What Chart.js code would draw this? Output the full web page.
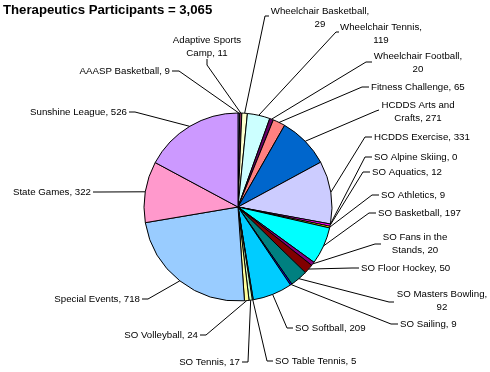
<!DOCTYPE html>
<html>
<head>
<meta charset="utf-8">
<title>Therapeutics Participants</title>
<script src="https://cdn.jsdelivr.net/npm/chart.js@4/dist/chart.umd.min.js"></script>
<style>
    html, body { margin: 0; padding: 0; background: #fff; }
    #chart-wrap { width: 490px; height: 372px; }
</style>
</head>
<body>
<div id="chart-wrap">
    <canvas id="participants-chart" width="490" height="372"></canvas>
</div>
<script>
// Chart data (clockwise from 12 o'clock)
const categories = [
    'AAASP Basketball', 'Adaptive Sports Camp', 'Wheelchair Basketball', 'Wheelchair Tennis',
    'Wheelchair Football', 'Fitness Challenge', 'HCDDS Arts and Crafts', 'HCDDS Exercise',
    'SO Alpine Skiing', 'SO Aquatics', 'SO Athletics', 'SO Basketball',
    'SO Fans in the Stands', 'SO Floor Hockey', 'SO Masters Bowling', 'SO Sailing',
    'SO Softball', 'SO Table Tennis', 'SO Tennis', 'SO Volleyball',
    'Special Events', 'State Games', 'Sunshine League'
];
const participants = [
    9, 11, 29, 119,
    20, 65, 271, 331,
    0, 12, 9, 197,
    20, 50, 92, 9,
    209, 5, 17, 24,
    718, 322, 526
];
const chartTitle = 'Therapeutics Participants = 3,065';

// Old Excel pie palette
const sliceColors = [
    '#9999FF', '#993366', '#FFFFCC', '#CCFFFF', '#660066', '#FF8080', '#0066CC', '#CCCCFF',
    '#000080', '#FF00FF', '#FFFF00', '#00FFFF', '#800080', '#800000', '#008080', '#0000FF',
    '#00CCFF', '#CCFFFF', '#CCFFCC', '#FFFF99', '#99CCFF', '#FF99CC', '#CC99FF'
];

// Where each data label sits and where its leader line starts
// x/y = text anchor, align = text alignment, wrap = words on first line,
// lx/ly = leader start, ex/ey = elbow point before heading to the slice
const labelLayout = [
    { x: 170, y: 71,  align: 'right',  lx: 172, ly: 71,  ex: 179, ey: 71 },
    { x: 207, y: 40,  align: 'center', wrap: 2, lx: 207, ly: 59, ex: 207, ey: 65 },
    { x: 320, y: 11,  align: 'center', wrap: 2, lx: 269, ly: 16, ex: 265, ey: 16 },
    { x: 381, y: 27,  align: 'center', wrap: 2, lx: 339, ly: 32, ex: 336, ey: 32 },
    { x: 418, y: 56,  align: 'center', wrap: 2, lx: 372, ly: 62, ex: 366, ey: 62 },
    { x: 371, y: 87,  align: 'left',   lx: 369, ly: 87,  ex: 362, ey: 87 },
    { x: 418, y: 105, align: 'center', wrap: 3, lx: 379, ly: 110, ex: 376, ey: 111 },
    { x: 374, y: 137, align: 'left',   lx: 372, ly: 137, ex: 365, ey: 137 },
    { x: 374, y: 157, align: 'left',   lx: 372, ly: 157, ex: 365, ey: 157 },
    { x: 372, y: 172, align: 'left',   lx: 370, ly: 172, ex: 363, ey: 172 },
    { x: 381, y: 195, align: 'left',   lx: 379, ly: 195, ex: 372, ey: 195 },
    { x: 378, y: 213, align: 'left',   lx: 376, ly: 213, ex: 369, ey: 213 },
    { x: 415, y: 237, align: 'center', wrap: 4, lx: 381, ly: 244, ex: 375, ey: 244 },
    { x: 361, y: 268, align: 'left',   lx: 359, ly: 268, ex: 352, ey: 268 },
    { x: 442, y: 294, align: 'center', wrap: 3, lx: 394, ly: 302, ex: 389, ey: 302 },
    { x: 400, y: 324, align: 'left',   lx: 398, ly: 324, ex: 391, ey: 324 },
    { x: 295, y: 328, align: 'left',   lx: 293, ly: 328, ex: 287, ey: 328 },
    { x: 275, y: 361, align: 'left',   lx: 273, ly: 361, ex: 267, ey: 361 },
    { x: 240, y: 362, align: 'right',  lx: 242, ly: 362, ex: 248, ey: 362 },
    { x: 198, y: 335, align: 'right',  lx: 200, ly: 335, ex: 206, ey: 335 },
    { x: 140, y: 299, align: 'right',  lx: 142, ly: 299, ex: 148, ey: 299 },
    { x: 91,  y: 192, align: 'right',  lx: 93,  ly: 192, ex: 100, ey: 192 },
    { x: 127, y: 112, align: 'right',  lx: 129, ly: 112, ex: 135, ey: 112 }
];

const LABEL_FONT = '9.7px "Liberation Sans", Arial, sans-serif';
const TITLE_FONT = 'bold 13.2px "Liberation Sans", Arial, sans-serif';
const LINE_HEIGHT = 13;

/**
 * Split "Category, value" into display lines
 * @param {number} index - Slice index
 * @returns {Array} Lines of text
 */
function labelLines(index) {
    const text = categories[index] + ', ' + participants[index];
    const wrap = labelLayout[index].wrap;
    if (!wrap) return [text];
    const words = text.split(' ');
    return [words.slice(0, wrap).join(' '), words.slice(wrap).join(' ')];
}

// Draws title, leader lines and data labels
const pieLabelsPlugin = {
    id: 'pieLabels',
    afterDraw(chart) {
        const ctx = chart.ctx;
        const arcs = chart.getDatasetMeta(0).data;

        ctx.save();

        // Title
        ctx.fillStyle = '#000';
        ctx.font = TITLE_FONT;
        ctx.textAlign = 'left';
        ctx.textBaseline = 'alphabetic';
        ctx.fillText(chartTitle, 3, 13.5);

        // Leader lines
        ctx.strokeStyle = '#000';
        ctx.lineWidth = 1;
        arcs.forEach((arc, i) => {
            const p = arc.getProps(['x', 'y', 'startAngle', 'endAngle', 'outerRadius'], true);
            const mid = (p.startAngle + p.endAngle) / 2;
            const edgeX = p.x + Math.cos(mid) * p.outerRadius;
            const edgeY = p.y + Math.sin(mid) * p.outerRadius;
            const lay = labelLayout[i];
            ctx.beginPath();
            ctx.moveTo(lay.lx, lay.ly);
            ctx.lineTo(lay.ex, lay.ey);
            ctx.lineTo(edgeX, edgeY);
            ctx.stroke();
        });

        // Label text
        ctx.font = LABEL_FONT;
        ctx.textBaseline = 'middle';
        ctx.fillStyle = '#000';
        arcs.forEach((arc, i) => {
            const lay = labelLayout[i];
            ctx.textAlign = lay.align;
            labelLines(i).forEach((line, n) => {
                ctx.fillText(line, lay.x, lay.y + n * LINE_HEIGHT);
            });
        });

        ctx.restore();
    }
};

new Chart(document.getElementById('participants-chart'), {
    type: 'pie',
    data: {
        labels: categories,
        datasets: [{
            data: participants,
            backgroundColor: sliceColors,
            borderColor: '#000',
            borderWidth: 1
        }]
    },
    options: {
        responsive: false,
        animation: false,
        layout: {
            padding: { left: 143.5, right: 157.5, top: 112.5, bottom: 70.5 }
        },
        plugins: {
            legend: { display: false },
            tooltip: { enabled: false },
            title: { display: false }
        }
    },
    plugins: [pieLabelsPlugin]
});
</script>
</body>
</html>
